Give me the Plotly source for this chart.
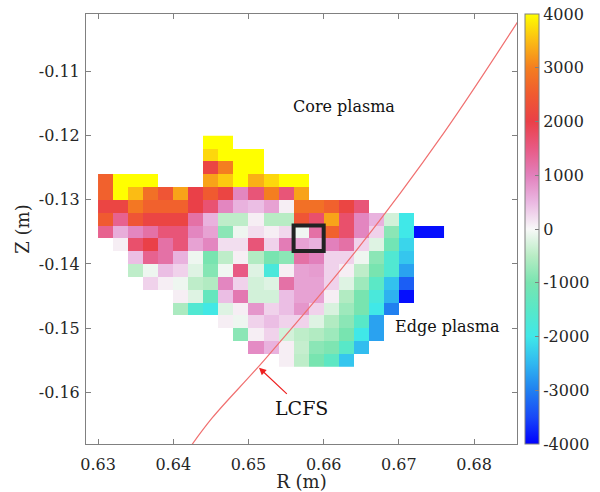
import plotly.graph_objects as go

N = None
# Column centres (R, m) and row centres (Z, m) of the grid cells
r_centers = [0.631, 0.633, 0.635, 0.637, 0.639, 0.641, 0.643, 0.645, 0.647, 0.649, 0.651, 0.653,
             0.655, 0.657, 0.659, 0.661, 0.663, 0.665, 0.667, 0.669, 0.671, 0.673, 0.675]
z_centers = [-0.121, -0.123, -0.125, -0.127, -0.129, -0.131, -0.133, -0.135, -0.137,
             -0.139, -0.141, -0.143, -0.145, -0.147, -0.149, -0.151, -0.153, -0.155]

values = [
    [N, N, N, N, N, N, N, 4000, 4000, N, N, N, N, N, N, N, N, N, N, N, N, N, N],
    [N, N, N, N, N, N, N, 3700, 4000, 4000, 4000, N, N, N, N, N, N, N, N, N, N, N, N],
    [N, N, N, N, N, N, N, 2100, 3000, 4000, 4000, N, N, N, N, N, N, N, N, N, N, N, N],
    [2600, 4000, 4000, 4000, N, N, N, 3300, 3600, 4000, 3400, 3700, 4000, 4000, N, N, N, N, N, N, N, N, N],
    [2600, 4000, 3500, 2800, 2400, 3300, 2000, 2500, 2100, 950, 1600, 3000, 1600, 3300, N, N, N, N, N, N, N, N, N],
    [2100, 2100, 2900, 2600, 2600, 2600, 2000, 1650, 950, 550, 450, 700, 80, 2800, 2800, 2600, 2100, 1600, N, N, N, N, N],
    [2500, 1400, 2400, 2100, 2100, 2100, 1200, 550, -450, -450, 80, -500, -500, 2400, 1700, 3300, 1700, 950, 550, -300, -2000, N, N],
    [1400, 600, 950, 1200, 1600, 1600, 950, 700, -850, -80, 200, 80, 250, -60, 1200, 2600, 1700, 950, 300, -850, -2000, -3900, -3900],
    [N, 80, 1700, 2000, 1200, 1600, 700, 950, 200, 200, 1600, 300, 1050, 700, 550, 1000, 1200, 300, -200, -1100, -2200, N, N],
    [N, N, 450, 1400, 1200, 550, -80, -1000, -450, 80, -550, -1000, -850, 1200, 1000, 300, 300, -80, -850, -1650, -2350, N, N],
    [N, N, -450, -80, 450, 300, -200, -900, -60, 1500, -200, -1800, 80, 700, 750, 300, 80, -450, -1000, -1650, -2700, N, N],
    [N, N, N, 300, 80, -80, -450, -550, 950, 300, -300, -200, 1200, 700, 700, 300, -200, -700, -1450, -2400, -3300, N, N],
    [N, N, N, N, N, 80, -200, -1300, 450, 1100, -300, -300, 450, 700, 700, 80, -550, -1000, -1800, -2550, -3900, N, N],
    [N, N, N, N, N, -600, -1650, -1950, -200, 80, 800, 300, 450, 800, 300, -250, -700, -1000, -2000, -3000, N, N, N],
    [N, N, N, N, N, N, N, N, 80, -80, 300, 450, 300, 300, -200, -550, -850, -1500, -2700, N, N, N, N],
    [N, N, N, N, N, N, N, N, N, -850, 80, 300, -300, -450, -550, -700, -1000, -2000, -2700, N, N, N, N],
    [N, N, N, N, N, N, N, N, N, N, 900, 550, 80, -400, -850, -950, -1500, -2450, N, N, N, N, N],
    [N, N, N, N, N, N, N, N, N, N, N, N, 80, -450, -1000, -1400, -2350, N, N, N, N, N, N],
]

# LCFS curve points
lcfs_r = [0.6420, 0.6452, 0.6521, 0.6644, 0.6760, 0.6870]
lcfs_z = [-0.1690, -0.1640, -0.1550, -0.1378, -0.1195, -0.1000]

x_ticks = [0.63, 0.64, 0.65, 0.66, 0.67, 0.68]
x_ticktext = ["0.63", "0.64", "0.65", "0.66", "0.67", "0.68"]
y_ticks = [-0.16, -0.15, -0.14, -0.13, -0.12, -0.11]
y_ticktext = ["-0.16", "-0.15", "-0.14", "-0.13", "-0.12", "-0.11"]
cb_ticks = [-4000, -3000, -2000, -1000, 0, 1000, 2000, 3000, 4000]
cb_ticktext = ["-4000", "-3000", "-2000", "-1000", "0", "1000", "2000", "3000", "4000"]

colorscale = [
    [0.0, "#0000ff"], [0.0625, "#1848f8"], [0.125, "#2080f0"], [0.1875, "#30b8f0"],
    [0.25, "#40e8e8"], [0.3125, "#58e8c8"], [0.375, "#78e4b0"], [0.4375, "#b8ecc4"],
    [0.5, "#f8f8f8"], [0.5625, "#eab8e2"], [0.625, "#e280bc"], [0.6875, "#e85a84"],
    [0.75, "#ea4048"], [0.8125, "#f05a30"], [0.875, "#f47e20"], [0.9375, "#fbbc14"],
    [1.0, "#ffff00"],
]

FONT = "DejaVu Serif"
AX = "#808080"
TXT = "#262626"

fig = go.Figure()
fig.add_trace(go.Heatmap(
    x=r_centers, y=z_centers, z=values, zmin=-4000, zmax=4000,
    colorscale=colorscale, hoverongaps=False,
    colorbar=dict(
        thickness=14, len=1.0, lenmode="fraction", x=1.0186, xanchor="left",
        y=0.5, yanchor="middle", outlinecolor=AX, outlinewidth=1,
        tickvals=cb_ticks, ticktext=cb_ticktext, ticks="inside", ticklen=4,
        tickcolor=AX, tickfont=dict(family=FONT, size=16, color=TXT),
        xpad=0, ypad=0,
    ),
))
fig.add_trace(go.Scatter(
    x=lcfs_r, y=lcfs_z, mode="lines", line=dict(color="#f07070", width=1.2, shape="spline"),
    showlegend=False, hoverinfo="skip",
))

fig.add_shape(type="rect", x0=0.656, x1=0.660, y0=-0.138, y1=-0.134,
              line=dict(color="#222222", width=4))

fig.add_annotation(x=0.6627, y=-0.1155, text="Core plasma", showarrow=False,
                   font=dict(family=FONT, size=16, color="#111"))
fig.add_annotation(x=0.6765, y=-0.1497, text="Edge plasma", showarrow=False,
                   font=dict(family=FONT, size=16, color="#111"))
fig.add_annotation(x=0.6570, y=-0.1625, text="LCFS", showarrow=False,
                   font=dict(family=FONT, size=19, color="#111"))
fig.add_annotation(x=0.6514, y=-0.1562, ax=0.6553, ay=-0.1605, axref="x", ayref="y",
                   text="", showarrow=True, arrowhead=2, arrowsize=1.2, arrowwidth=1.2,
                   arrowcolor="#ee2020")

fig.update_layout(
    width=600, height=492, margin=dict(l=86, r=83, t=14, b=48, autoexpand=False),
    paper_bgcolor="white", plot_bgcolor="white",
    font=dict(family=FONT, size=16, color=TXT),
    showlegend=False,
)
fig.update_xaxes(
    range=[0.6284, 0.6857], tickvals=x_ticks, ticktext=x_ticktext, automargin=False,
    showgrid=False, zeroline=False, showline=True, linecolor=AX, linewidth=1, mirror="ticks",
    ticks="inside", ticklen=5, tickcolor=AX, ticklabelstandoff=6,
    title=dict(text="R (m)", font=dict(family=FONT, size=18, color=TXT), standoff=4),
    tickfont=dict(family=FONT, size=16, color=TXT),
)
fig.update_yaxes(
    range=[-0.1681, -0.1010], tickvals=y_ticks, ticktext=y_ticktext, automargin=False,
    showgrid=False, zeroline=False, showline=True, linecolor=AX, linewidth=1, mirror="ticks",
    ticks="inside", ticklen=5, tickcolor=AX, ticklabelstandoff=2,
    title=dict(text="Z (m)", font=dict(family=FONT, size=18, color=TXT), standoff=4),
    tickfont=dict(family=FONT, size=16, color=TXT),
)

fig.write_html("out.html")
